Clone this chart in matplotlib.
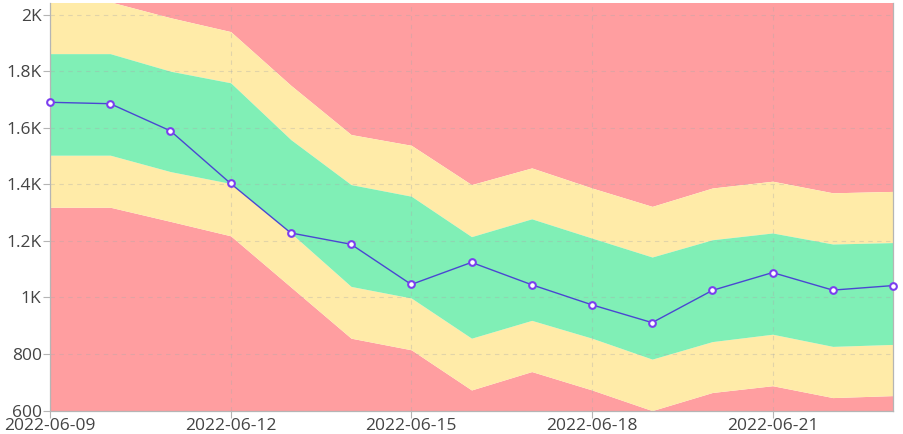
import matplotlib
matplotlib.use("Agg")
import matplotlib.pyplot as plt
import matplotlib.dates as mdates
from matplotlib.ticker import FuncFormatter, FixedLocator
import pandas as pd

dates = pd.date_range("2022-06-09", periods=15, freq="D")
line_values = [1690, 1685, 1589, 1403, 1228, 1188, 1046, 1124, 1045, 974, 911, 1025, 1088, 1026, 1042]
green_upper = [1862, 1862, 1800, 1759, 1558, 1399, 1358, 1215, 1278, 1210, 1143, 1204, 1228, 1189, 1194]
green_lower = [1503, 1503, 1445, 1403, 1228, 1039, 998, 856, 919, 856, 782, 844, 870, 827, 834]
yellow_upper = [2045, 2045, 1989, 1940, 1750, 1576, 1538, 1399, 1458, 1387, 1322, 1387, 1411, 1370, 1375]
yellow_lower = [1319, 1319, 1269, 1218, 1037, 856, 815, 673, 738, 673, 600, 664, 688, 646, 653]
y_ticks = [600, 800, 1000, 1200, 1400, 1600, 1800, 2000]
x_tick_dates = dates[::3]

plt.rcParams["font.family"] = ["Open Sans", "DejaVu Sans"]

RED = "#FF9EA0"
YELLOW = "#FFEBA8"
GREEN = "#80EFB6"
LINE = "#4A47D2"
MARK = "#7B3EEF"

fig = plt.figure(figsize=(9.04, 4.34), dpi=100)
ax = fig.add_axes([50 / 904, (434 - 410.6) / 434, (893 - 50) / 904, (410.6 - 3.3) / 434])
ymin, ymax = 600, 2040

ax.fill_between(dates, ymin, yellow_lower, color=RED, lw=0, zorder=1)
ax.fill_between(dates, yellow_upper, ymax + 200, color=RED, lw=0, zorder=1)
ax.fill_between(dates, yellow_lower, green_lower, color=YELLOW, lw=0, zorder=1)
ax.fill_between(dates, green_upper, yellow_upper, color=YELLOW, lw=0, zorder=1)
ax.fill_between(dates, green_lower, green_upper, color=GREEN, lw=0, zorder=1)

ax.plot(dates, line_values, color=LINE, lw=1, zorder=4, clip_on=False,
        marker="o", markersize=4.8, markerfacecolor="white",
        markeredgecolor=MARK, markeredgewidth=1.5)

ax.set_xlim(dates[0], dates[-1])
ax.set_ylim(ymin, ymax)

ax.xaxis.set_major_locator(FixedLocator(mdates.date2num(x_tick_dates)))
ax.xaxis.set_major_formatter(mdates.DateFormatter("%Y-%m-%d"))
ax.yaxis.set_major_locator(FixedLocator(y_ticks))


def fmt(v, pos):
    if v >= 1000:
        s = f"{v / 1000:.1f}".rstrip("0").rstrip(".")
        return s + "K"
    return f"{int(v)}"


ax.yaxis.set_major_formatter(FuncFormatter(fmt))

ax.grid(True, color="#AAAAAA", alpha=0.35, linestyle=(0, (4, 4)), lw=0.8, zorder=2)
ax.set_axisbelow(False)
for gl in ax.get_xgridlines() + ax.get_ygridlines():
    gl.set_zorder(2)

ax.spines["top"].set_visible(False)
for s in ["left", "right", "bottom"]:
    ax.spines[s].set_color("#B5B5B5")
    ax.spines[s].set_linewidth(0.9)
    ax.spines[s].set_zorder(3)

ax.tick_params(axis="both", colors="#B5B5B5", length=5, width=0.8,
               labelsize=12.5, labelcolor="#444444", pad=1)
ax.tick_params(axis="x", pad=0)

fig.savefig("out.png", dpi=100)
